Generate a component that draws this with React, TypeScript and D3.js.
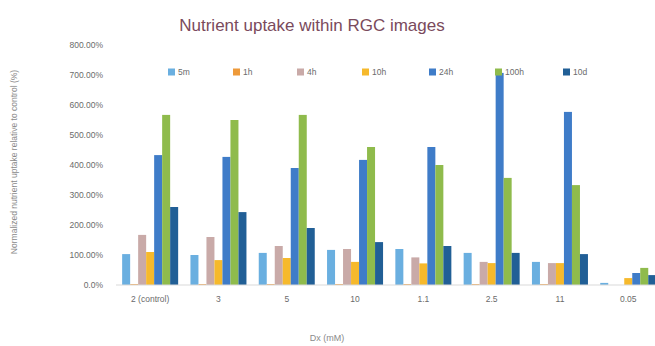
import React, { useEffect } from "react";
import * as d3 from "d3";

// Categories along the x axis
const categories: string[] = ["2 (control)", "3", "5", "10", "1.1", "2.5", "11", "0.05"];

// Series names shown in the legend
const seriesNames: string[] = ["5m", "1h", "4h", "10h", "24h", "100h", "10d"];

const seriesColors: string[] = ["#6aafe0", "#ee9a3a", "#c9aaa8", "#f6b92c", "#3f7cc8", "#8fbb4c", "#215f96"];

// Values per series (fraction, 1 = 100%), one entry per category
const s5m: number[] = [1.03, 1.0, 1.07, 1.17, 1.2, 1.07, 0.77, 0.07];
const s1h: number[] = [0.03, 0.03, 0.03, 0.03, 0.03, 0.03, 0.03, 0.0];
const s4h: number[] = [1.67, 1.6, 1.3, 1.2, 0.92, 0.77, 0.73, 0.0];
const s10h: number[] = [1.1, 0.83, 0.9, 0.77, 0.72, 0.73, 0.73, 0.23];
const s24h: number[] = [4.33, 4.27, 3.9, 4.17, 4.6, 7.07, 5.77, 0.4];
const s100h: number[] = [5.67, 5.5, 5.67, 4.6, 4.0, 3.57, 3.33, 0.57];
const s10d: number[] = [2.6, 2.43, 1.9, 1.43, 1.3, 1.07, 1.03, 0.33];

const seriesValues: number[][] = [s5m, s1h, s4h, s10h, s24h, s100h, s10d];

// Y axis ticks
const yTicks: number[] = [0, 1, 2, 3, 4, 5, 6, 7, 8];

const W = 655;
const H = 346;

export default function App() {
  useEffect(() => {
    document.body.style.margin = "0";
  }, []);

  const x = d3
    .scaleBand<string>()
    .domain(categories)
    .range([116, 662.4])
    .paddingInner(0.18)
    .paddingOuter(0.09);

  const xs = d3
    .scaleBand<string>()
    .domain(seriesNames)
    .range([0, x.bandwidth()]);

  const y = d3.scaleLinear().domain([0, 8]).range([285, 45]);

  const fmt = (v: number) => (v === 0 ? "0.0%" : d3.format(".2%")(v));

  const legendX = [168, 233, 297, 362, 429, 495, 563];

  return (
    <svg width={W} height={H} style={{ display: "block", background: "#fff" }}>
      <text
        x={312}
        y={31}
        textAnchor="middle"
        fontFamily="Liberation Sans, Arial, sans-serif"
        fontSize={17}
        fill="#7a4a5c"
      >
        Nutrient uptake within RGC images
      </text>

      {/* y axis title */}
      <text
        transform="translate(17,162) rotate(-90)"
        textAnchor="middle"
        fontFamily="Liberation Sans, Arial, sans-serif"
        fontSize={8.5}
        fill="#8a8a8a"
      >
        Normalized nutrient uptake relative to control (%)
      </text>

      {/* y tick labels */}
      {yTicks.map((t) => (
        <text
          key={t}
          x={103}
          y={y(t)}
          dy="0.35em"
          textAnchor="end"
          fontFamily="Liberation Sans, Arial, sans-serif"
          fontSize={8.5}
          fill="#6b6b6b"
        >
          {fmt(t)}
        </text>
      ))}

      {/* bars */}
      {categories.map((c, ci) => (
        <g key={c} transform={`translate(${x(c)},0)`}>
          {seriesNames.map((s, si) => {
            const v = seriesValues[si][ci];
            return (
              <rect
                key={s}
                x={xs(s)}
                y={y(v)}
                width={xs.bandwidth()}
                height={y(0) - y(v)}
                fill={seriesColors[si]}
              />
            );
          })}
        </g>
      ))}

      {/* baseline */}
      <line x1={116} x2={W} y1={y(0)} y2={y(0)} stroke="#d9d9d9" strokeWidth={1} />

      {/* x tick labels */}
      {categories.map((c) => (
        <text
          key={c}
          x={(x(c) as number) + x.bandwidth() / 2}
          y={302}
          textAnchor="middle"
          fontFamily="Liberation Sans, Arial, sans-serif"
          fontSize={8.5}
          fill="#6b6b6b"
        >
          {c}
        </text>
      ))}

      {/* x axis title */}
      <text
        x={327}
        y={341}
        textAnchor="middle"
        fontFamily="Liberation Sans, Arial, sans-serif"
        fontSize={9}
        fill="#8a8a8a"
      >
        Dx (mM)
      </text>

      {/* legend */}
      {seriesNames.map((s, i) => (
        <g key={s} transform={`translate(${legendX[i]},72)`}>
          <rect x={0} y={-3.5} width={7} height={7} fill={seriesColors[i]} />
          <text
            x={10}
            y={0}
            dy="0.35em"
            fontFamily="Liberation Sans, Arial, sans-serif"
            fontSize={8.5}
            fill="#6b6b6b"
          >
            {s}
          </text>
        </g>
      ))}
    </svg>
  );
}
